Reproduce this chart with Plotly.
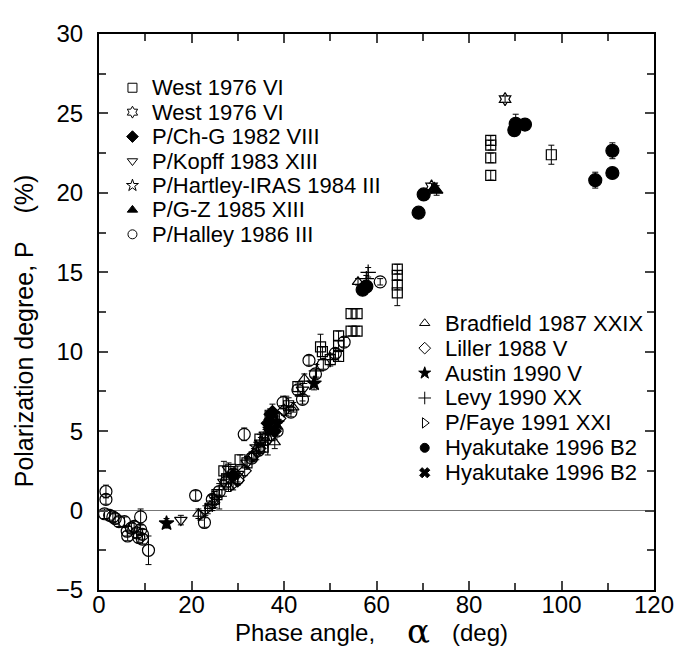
import plotly.graph_objects as go

# ---------------- data ----------------
west_sq_x = [25.5, 27.0, 27.6, 28.5, 30.5, 32.0, 34.8, 35.5, 37.0, 41.0, 43.0, 47.9, 48.3, 50.0,
             51.8, 51.8, 51.8, 54.5, 55.8, 54.5, 55.8, 64.5, 64.5, 64.5, 64.5, 84.7, 84.7, 84.7, 84.7, 97.8]
west_sq_p = [1.0, 2.5, 2.0, 2.6, 3.2, 3.0, 4.5, 4.0, 6.0, 6.6, 7.8, 10.3, 10.0, 9.5,
             11.0, 10.4, 9.7, 12.4, 12.4, 11.3, 11.3, 15.2, 14.8, 14.2, 13.7, 23.3, 23.0, 22.2, 21.1, 22.4]
west_sq_e = [0.3, 0.6, 0.3, 0.3, 0.3, 0.3, 0.3, 0.3, 0.4, 0.5, 0.3, 0.8, 0.3, 0.3,
             0.3, 0.3, 0.3, 0.3, 0.3, 0.3, 0.3, 0.3, 0.3, 0.3, 0.8, 0.3, 0.3, 0.3, 0.3, 0.6]

west_hex_x = [87.8, 71.9, 37.5]
west_hex_p = [25.9, 20.4, 5.8]
west_hex_e = [0.2, 0.2, 0.3]

chg_x = [29.0, 36.5, 37.5, 38.0]
chg_p = [2.2, 5.5, 6.2, 5.0]
chg_e = [0.4, 0.5, 0.5, 0.5]

kopff_x = [17.7, 25.0, 27.0, 28.0, 30.0, 32.0, 44.0]
kopff_p = [-0.6, 0.8, 1.8, 2.6, 2.3, 3.0, 7.6]
kopff_e = [0.3, 0.4, 0.5, 0.4, 0.5, 0.4, 0.4]

hartley_x = [34.0, 35.0, 36.0, 38.0]
hartley_p = [4.0, 4.3, 4.8, 5.6]
hartley_e = [0.3, 0.3, 0.3, 0.3]

gz_x = [73.0, 72.5]
gz_p = [20.15, 20.3]
gz_e = [0.3, 0.2]

halley_x = [1.5, 1.5, 1.2, 2.3, 3.0, 3.5, 4.3, 5.5, 6.1, 6.2, 7.0, 7.6, 8.2, 8.6, 9.0, 9.0, 9.4, 9.4, 10.7,
            20.9, 22.8, 24.5, 26.0, 27.5, 29.0, 30.0, 31.4, 33.0, 34.5, 36.0, 37.0, 38.5, 39.8,
            41.5, 43.0, 44.0, 45.4, 46.8, 48.5, 51.1, 53.0, 60.8]
halley_p = [0.7, 1.2, -0.2, -0.3, -0.4, -0.5, -0.7, -0.7, -1.3, -1.6, -1.1, -1.0, -1.4, -1.7, -0.4, -1.2, -1.5, -1.8, -2.5,
            0.95, -0.75, 0.7, 1.2, 1.8, 2.3, 2.0, 4.8, 3.3, 3.8, 4.5, 5.2, 5.0, 6.8,
            6.2, 7.6, 7.0, 9.45, 8.6, 9.2, 9.9, 10.6, 14.4]
halley_e = [0.3, 0.4, 0.3, 0.3, 0.3, 0.3, 0.3, 0.3, 0.3, 0.3, 0.3, 0.3, 0.3, 0.3, 0.5, 0.3, 0.3, 0.3, 0.9,
            0.3, 0.3, 0.3, 0.3, 0.3, 0.3, 0.3, 0.4, 0.3, 0.3, 0.4, 0.4, 0.3, 0.4,
            0.3, 0.3, 0.3, 0.3, 0.3, 0.3, 0.3, 0.3, 0.2]

bradfield_x = [21.5, 24.0, 28.0, 33.0, 38.0, 42.0, 44.4, 56.0]
bradfield_p = [-0.2, 0.3, 1.5, 3.4, 4.3, 6.5, 8.3, 14.4]
bradfield_e = [0.3, 0.3, 0.3, 0.3, 0.4, 0.3, 0.3, 0.2]

liller_x = [30.0, 31.5, 33.5, 39.0, 40.0]
liller_p = [1.9, 2.5, 3.5, 5.8, 6.3]
liller_e = [0.3, 0.3, 0.4, 0.3, 0.3]

austin_x = [14.6, 37.0, 38.5, 46.5]
austin_p = [-0.8, 5.1, 5.5, 8.0]
austin_e = [0.3, 0.4, 0.4, 0.4]

levy_x = [23.0, 24.5, 26.0, 34.0, 36.5, 40.5, 44.0, 47.0, 50.0, 57.8, 58.2]
levy_p = [0.0, 0.4, 0.9, 3.6, 4.4, 6.6, 7.2, 8.8, 9.5, 14.6, 15.0]
levy_e = [0.3, 0.4, 0.8, 0.4, 0.9, 0.6, 0.3, 0.4, 0.4, 0.2, 0.3]

faye_x = [22.0, 23.5, 25.0, 29.0, 35.0]
faye_p = [-0.3, 0.1, 0.5, 1.6, 3.9]
faye_e = [0.3, 0.3, 0.3, 0.3, 0.3]

hyak_x = [57.0, 57.8, 69.1, 70.2, 89.8, 90.1, 92.1, 107.3, 111.0, 111.0]
hyak_p = [13.9, 14.1, 18.75, 19.9, 23.95, 24.35, 24.3, 20.8, 21.25, 22.65]
hyak_e = [0.2, 0.2, 0.2, 0.2, 0.2, 0.6, 0.2, 0.5, 0.2, 0.5]

hyakx_x = [57.4, 36.8]
hyakx_p = [14.0, 5.9]
hyakx_e = [0.2, 0.3]

x_ticks = [0, 20, 40, 60, 80, 100, 120]
y_ticks = [-5, 0, 5, 10, 15, 20, 25, 30]

# (name, x, p, err, symbol, size, legend box)
series = [
    ("West 1976 VI", west_sq_x, west_sq_p, west_sq_e, "square-open", 10, 1),
    ("West 1976 VI", west_hex_x, west_hex_p, west_hex_e, "hexagram-open", 10, 1),
    ("P/Ch-G 1982 VIII", chg_x, chg_p, chg_e, "diamond", 10, 1),
    ("P/Kopff 1983 XIII", kopff_x, kopff_p, kopff_e, "triangle-down-open", 11, 1),
    ("P/Hartley-IRAS 1984 III", hartley_x, hartley_p, hartley_e, "star-open", 10, 1),
    ("P/G-Z 1985 XIII", gz_x, gz_p, gz_e, "triangle-up", 11, 1),
    ("P/Halley 1986 III", halley_x, halley_p, halley_e, "circle-open", 12, 1),
    ("Bradfield 1987 XXIX", bradfield_x, bradfield_p, bradfield_e, "triangle-up-open", 10, 2),
    ("Liller 1988 V", liller_x, liller_p, liller_e, "diamond-open", 10, 2),
    ("Austin 1990 V", austin_x, austin_p, austin_e, "star", 11, 2),
    ("Levy 1990 XX", levy_x, levy_p, levy_e, "cross-thin-open", 11, 2),
    ("P/Faye 1991 XXI", faye_x, faye_p, faye_e, "triangle-right-open", 10, 2),
    ("Hyakutake 1996 B2", hyak_x, hyak_p, hyak_e, "circle", 13, 2),
    ("Hyakutake 1996 B2", hyakx_x, hyakx_p, hyakx_e, "x", 9, 2),
]

# ---- geometry (window pixels; the page body adds an 8px offset) ----
OFF = 8
W, H = 686, 654
PL, PR, PT, PB = 99, 663, 21, 590          # plot box in window px
def px2paper(X, Y):
    return (X - PL) / (PR - PL), (PB - Y) / (PB - PT)

font_family = "Liberation Sans, Arial, sans-serif"

fig = go.Figure()
for name, xs, ps, es, sym, sz, box in series:
    fig.add_trace(go.Scatter(
        x=xs, y=ps, mode="markers", showlegend=False, name=name,
        marker=dict(symbol=sym, size=sz, color="black", line=dict(color="black", width=1.2)),
        error_y=dict(type="data", array=es, visible=True, color="black", thickness=1, width=3),
    ))

# ---- legends drawn on an overlay (paper-like) axis pair ----
annotations = []
leg_x, leg_y, leg_sym = [], [], []
i1 = i2 = 0
for name, xs, ps, es, sym, sz, box in series:
    if box == 1:
        sx, sy, tx = 133, 76 + 25.0 * i1, 151
        i1 += 1
    else:
        sx, sy, tx = 430, 317 + 25.5 * i2, 449
        i2 += 1
    px, py = px2paper(sx, sy)
    leg_x.append(px); leg_y.append(py); leg_sym.append(sym)
    ax_, ay_ = px2paper(tx, sy)
    annotations.append(dict(text=name, x=ax_, y=ay_, xref="paper", yref="paper",
                            showarrow=False, xanchor="left", yanchor="middle",
                            font=dict(family=font_family, size=22, color="black")))

fig.add_trace(go.Scatter(
    x=leg_x, y=leg_y, xaxis="x2", yaxis="y2", mode="markers", showlegend=False,
    hoverinfo="skip", cliponaxis=False,
    marker=dict(symbol=leg_sym, size=9, color="black", line=dict(color="black", width=1)),
))

# x-axis title in three pieces: "Phase angle,"  α  "(deg)"
annotations.append(dict(
    text="Phase angle,", x=px2paper(381, 0)[0], y=px2paper(0, 634)[1],
    xref="paper", yref="paper", showarrow=False, xanchor="right", yanchor="middle",
    font=dict(size=24, family=font_family, color="black")))
annotations.append(dict(
    text="α", x=px2paper(424, 0)[0], y=px2paper(0, 632)[1],
    xref="paper", yref="paper", showarrow=False, xanchor="center", yanchor="middle",
    font=dict(size=34, family="DejaVu Serif, serif", color="black")))
annotations.append(dict(
    text="(deg)", x=px2paper(456, 0)[0], y=px2paper(0, 634)[1],
    xref="paper", yref="paper", showarrow=False, xanchor="left", yanchor="middle",
    font=dict(size=24, family=font_family, color="black")))
annotations.append(dict(
    text="Polarization degree, P&nbsp;&nbsp;&nbsp;&nbsp;(%)", textangle=-90,
    x=px2paper(23, 0)[0], y=px2paper(0, 325)[1], xref="paper", yref="paper", showarrow=False,
    xanchor="center", yanchor="middle", font=dict(size=25, family=font_family, color="black")))

fig.update_layout(
    width=W - OFF, height=H - OFF,
    margin=dict(l=PL - OFF, r=W - PR, t=PT - OFF, b=H - PB),
    paper_bgcolor="white", plot_bgcolor="white",
    font=dict(family=font_family, color="black"),
    showlegend=False,
    xaxis=dict(range=[0, 120], tickvals=x_ticks, ticks="inside", ticklen=9, tickwidth=1.5,
               minor=dict(dtick=10, ticks="inside", ticklen=7, tickwidth=1.5),
               showline=True, linewidth=2, linecolor="black", mirror="ticks",
               showgrid=False, zeroline=False,
               tickfont=dict(size=24, family=font_family), ticklabelstandoff=-8),
    yaxis=dict(range=[-5, 30], tickvals=y_ticks, ticks="inside", ticklen=9, tickwidth=1.5,
               minor=dict(dtick=2.5, ticks="inside", ticklen=7, tickwidth=1.5),
               showline=True, linewidth=2, linecolor="black", mirror="ticks",
               showgrid=False, zeroline=True, zerolinecolor="#777777", zerolinewidth=1,
               tickfont=dict(size=24, family=font_family), ticklabelstandoff=9),
    xaxis2=dict(overlaying="x", range=[0, 1], visible=False, anchor="y2"),
    yaxis2=dict(overlaying="y", range=[0, 1], visible=False, anchor="x2"),
    annotations=annotations,
)

fig.write_html("out.html")
